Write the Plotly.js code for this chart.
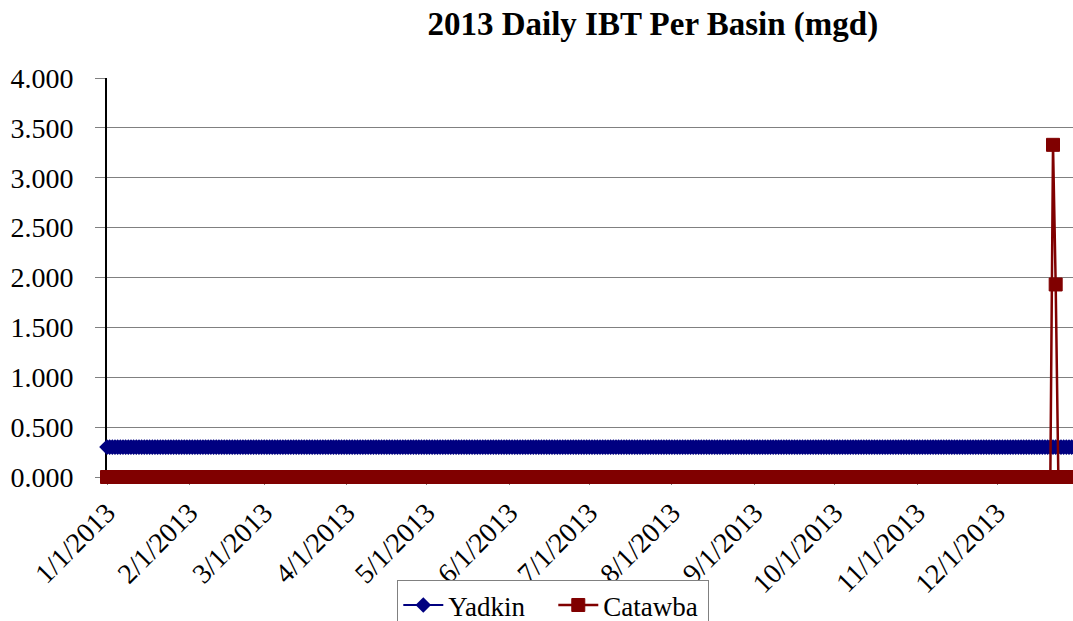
<!DOCTYPE html>
<html>
<head>
<meta charset="utf-8">
<script src="https://cdn.plot.ly/plotly-3.0.1.min.js"></script>
<style>html,body{margin:0;padding:0;background:#fff;}#chart{width:1073px;height:621px;}</style>
</head>
<body>
<div id="chart"></div>
<script>
// Daily series, one value per day starting 2013-01-01
const startDate = '2013-01-01';
const seriesNames = ['Yadkin', 'Catawba'];
const yadkin = [
0.3,0.3,0.3,0.3,0.3,0.3,0.3,0.3,0.3,0.3,0.3,0.3,0.3,0.3,0.3,0.3,0.3,0.3,0.3,0.3,
0.3,0.3,0.3,0.3,0.3,0.3,0.3,0.3,0.3,0.3,0.3,0.3,0.3,0.3,0.3,0.3,0.3,0.3,0.3,0.3,
0.3,0.3,0.3,0.3,0.3,0.3,0.3,0.3,0.3,0.3,0.3,0.3,0.3,0.3,0.3,0.3,0.3,0.3,0.3,0.3,
0.3,0.3,0.3,0.3,0.3,0.3,0.3,0.3,0.3,0.3,0.3,0.3,0.3,0.3,0.3,0.3,0.3,0.3,0.3,0.3,
0.3,0.3,0.3,0.3,0.3,0.3,0.3,0.3,0.3,0.3,0.3,0.3,0.3,0.3,0.3,0.3,0.3,0.3,0.3,0.3,
0.3,0.3,0.3,0.3,0.3,0.3,0.3,0.3,0.3,0.3,0.3,0.3,0.3,0.3,0.3,0.3,0.3,0.3,0.3,0.3,
0.3,0.3,0.3,0.3,0.3,0.3,0.3,0.3,0.3,0.3,0.3,0.3,0.3,0.3,0.3,0.3,0.3,0.3,0.3,0.3,
0.3,0.3,0.3,0.3,0.3,0.3,0.3,0.3,0.3,0.3,0.3,0.3,0.3,0.3,0.3,0.3,0.3,0.3,0.3,0.3,
0.3,0.3,0.3,0.3,0.3,0.3,0.3,0.3,0.3,0.3,0.3,0.3,0.3,0.3,0.3,0.3,0.3,0.3,0.3,0.3,
0.3,0.3,0.3,0.3,0.3,0.3,0.3,0.3,0.3,0.3,0.3,0.3,0.3,0.3,0.3,0.3,0.3,0.3,0.3,0.3,
0.3,0.3,0.3,0.3,0.3,0.3,0.3,0.3,0.3,0.3,0.3,0.3,0.3,0.3,0.3,0.3,0.3,0.3,0.3,0.3,
0.3,0.3,0.3,0.3,0.3,0.3,0.3,0.3,0.3,0.3,0.3,0.3,0.3,0.3,0.3,0.3,0.3,0.3,0.3,0.3,
0.3,0.3,0.3,0.3,0.3,0.3,0.3,0.3,0.3,0.3,0.3,0.3,0.3,0.3,0.3,0.3,0.3,0.3,0.3,0.3,
0.3,0.3,0.3,0.3,0.3,0.3,0.3,0.3,0.3,0.3,0.3,0.3,0.3,0.3,0.3,0.3,0.3,0.3,0.3,0.3,
0.3,0.3,0.3,0.3,0.3,0.3,0.3,0.3,0.3,0.3,0.3,0.3,0.3,0.3,0.3,0.3,0.3,0.3,0.3,0.3,
0.3,0.3,0.3,0.3,0.3,0.3,0.3,0.3,0.3,0.3,0.3,0.3,0.3,0.3,0.3,0.3,0.3,0.3,0.3,0.3,
0.3,0.3,0.3,0.3,0.3,0.3,0.3,0.3,0.3,0.3,0.3,0.3,0.3,0.3,0.3,0.3,0.3,0.3,0.3,0.3,
0.3,0.3,0.3,0.3,0.3,0.3,0.3,0.3,0.3,0.3,0.3,0.3,0.3,0.3,0.3,0.3,0.3,0.3,0.3,0.3,
0.3,0.3,0.3,0.3,0.3
];
const catawba = [
0,0,0,0,0,0,0,0,0,0,0,0,0,0,0,0,0,0,0,0,
0,0,0,0,0,0,0,0,0,0,0,0,0,0,0,0,0,0,0,0,
0,0,0,0,0,0,0,0,0,0,0,0,0,0,0,0,0,0,0,0,
0,0,0,0,0,0,0,0,0,0,0,0,0,0,0,0,0,0,0,0,
0,0,0,0,0,0,0,0,0,0,0,0,0,0,0,0,0,0,0,0,
0,0,0,0,0,0,0,0,0,0,0,0,0,0,0,0,0,0,0,0,
0,0,0,0,0,0,0,0,0,0,0,0,0,0,0,0,0,0,0,0,
0,0,0,0,0,0,0,0,0,0,0,0,0,0,0,0,0,0,0,0,
0,0,0,0,0,0,0,0,0,0,0,0,0,0,0,0,0,0,0,0,
0,0,0,0,0,0,0,0,0,0,0,0,0,0,0,0,0,0,0,0,
0,0,0,0,0,0,0,0,0,0,0,0,0,0,0,0,0,0,0,0,
0,0,0,0,0,0,0,0,0,0,0,0,0,0,0,0,0,0,0,0,
0,0,0,0,0,0,0,0,0,0,0,0,0,0,0,0,0,0,0,0,
0,0,0,0,0,0,0,0,0,0,0,0,0,0,0,0,0,0,0,0,
0,0,0,0,0,0,0,0,0,0,0,0,0,0,0,0,0,0,0,0,
0,0,0,0,0,0,0,0,0,0,0,0,0,0,0,0,0,0,0,0,
0,0,0,0,0,0,0,0,0,0,0,0,0,0,0,0,0,0,0,0,
0,0,0,0,0,0,0,0,0,0,0,0,0,0,0,
3.33,1.93,
0,0,0,0,0,0,0,0
];
const titleText = '2013 Daily IBT Per Basin (mgd)';
const yTickVals = [0, 0.5, 1, 1.5, 2, 2.5, 3, 3.5, 4];

const font = 'Liberation Serif, Times New Roman, serif';
const DAY = 86400000;

const traces = [
  {
    type: 'scatter', mode: 'lines+markers', name: seriesNames[0],
    x0: startDate, dx: DAY, y: yadkin,
    line: {color: '#000080', width: 2},
    marker: {symbol: 'diamond', size: 12, color: '#000080'},
    cliponaxis: false
  },
  {
    type: 'scatter', mode: 'lines+markers', name: seriesNames[1],
    x0: startDate, dx: DAY, y: catawba,
    line: {color: '#800000', width: 2.5},
    marker: {symbol: 'square', size: 13, color: '#800000', line: {color: '#800000', width: 1}},
    cliponaxis: false
  }
];

const layout = {
  width: 1073, height: 621,
  paper_bgcolor: '#fff', plot_bgcolor: '#fff',
  margin: {l: 107, r: 0, t: 78, b: 144, autoexpand: false},
  font: {family: font, color: '#000', size: 26},
  title: {
    text: '<b>' + titleText + '</b>',
    font: {family: font, size: 33, color: '#000'},
    x: 0.565, xanchor: 'center', xref: 'paper',
    y: 0.962, yanchor: 'middle'
  },
  showlegend: true,
  legend: {
    orientation: 'h', x: 0.462, xanchor: 'center', y: -0.258, yanchor: 'top',
    bordercolor: '#808080', borderwidth: 1, bgcolor: '#fff',
    font: {family: font, size: 27, color: '#000'},
    itemwidth: 40, entrywidth: 100, entrywidthmode: 'pixels',
    traceorder: 'normal'
  },
  xaxis: {
    type: 'date',
    range: ['2013-01-01', '2013-12-29 12:00'],
    tickmode: 'linear', tick0: '2013-01-01', dtick: 'M1',
    tickformat: '%-m/%-d/%Y', tickangle: -45,
    tickfont: {family: font, size: 28, color: '#000'},
    ticks: 'outside', ticklen: 7, tickcolor: '#808080',
    showgrid: false, zeroline: false,
    showline: true, linecolor: '#000', linewidth: 1,
    layer: 'below traces', automargin: false, fixedrange: true
  },
  yaxis: {
    range: [0, 4],
    tickmode: 'array', tickvals: yTickVals,
    tickformat: '.3f',
    tickfont: {family: font, size: 28, color: '#000'},
    ticks: 'outside', ticklen: 10, tickcolor: '#808080',
    ticklabelstandoff: 16,
    showgrid: true, gridcolor: '#808080', gridwidth: 1,
    zeroline: false,
    showline: true, linecolor: '#000', linewidth: 2,
    layer: 'below traces', automargin: false, fixedrange: true
  }
};

Plotly.newPlot('chart', traces, layout, {displayModeBar: false, staticPlot: true});
</script>
</body>
</html>
